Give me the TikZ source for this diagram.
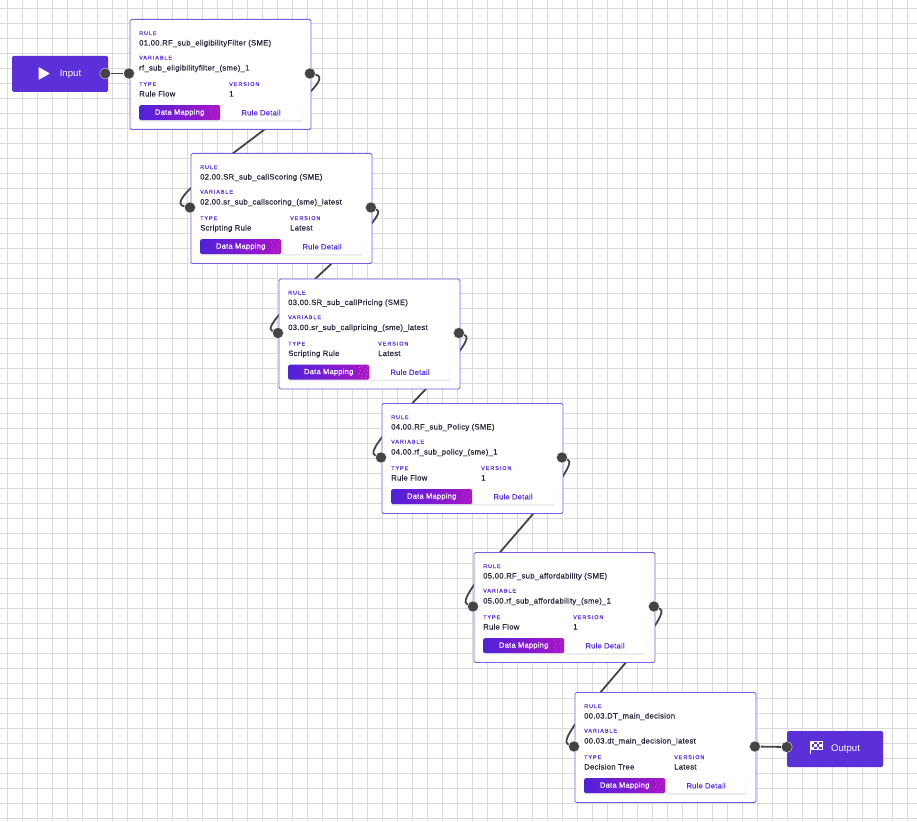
\documentclass[tikz,border=0pt]{standalone}
\usepackage{fontspec}
\setmainfont{Liberation Sans}
\newfontfamily\cardfont[FakeBold=0.3,LetterSpace=3.5]{Liberation Sans}
\newfontfamily\btnfont[FakeBold=0.6,LetterSpace=3.5]{Liberation Sans}
\newfontfamily\capsfont[FakeBold=0.5,LetterSpace=18]{Liberation Sans}
\usetikzlibrary{positioning,backgrounds,shadows}

\definecolor{flowviolet}{HTML}{5B30D9}
\definecolor{cardborder}{HTML}{7A5BE6}
\definecolor{portgrey}{HTML}{444444}
\definecolor{gridgrey}{HTML}{DADADA}
\definecolor{inktext}{HTML}{26263A}
\definecolor{flowblue}{HTML}{4F22DA}
\definecolor{flowmagenta}{HTML}{AB14C6}

\tikzset{
  cardbox/.style={draw=cardborder, line width=0.9pt, fill=white, rounded corners=1.5pt, minimum width=181pt, minimum height=110pt, inner sep=0pt, anchor=north west},
  caplabel/.style={font=\capsfont\fontsize{5.4}{6}\selectfont, text=flowviolet, inner sep=0pt, anchor=west, text height=4pt, text depth=0pt},
  cardtext/.style={font=\cardfont\fontsize{7.7}{9}\selectfont, text=inktext, inner sep=0pt, anchor=west, text height=5.5pt, text depth=1.5pt},
  mapbtn/.style={left color=flowblue, right color=flowmagenta, rounded corners=1.5pt, minimum width=81pt, minimum height=15pt, inner sep=0pt, anchor=north west, text=white, font=\btnfont\fontsize{7.5}{9}\selectfont, drop shadow={opacity=0.18, shadow xshift=0pt, shadow yshift=-1.5pt}},
  detailbtn/.style={fill=white, rounded corners=1.5pt, minimum width=81pt, minimum height=15pt, inner sep=0pt, text=flowviolet, font=\btnfont\fontsize{7.5}{9}\selectfont, drop shadow={opacity=0.18, shadow xshift=0pt, shadow yshift=-1.5pt}},
  portdot/.style={circle, fill=portgrey, draw=white, line width=0.3pt, minimum size=11pt, inner sep=0pt},
  endbox/.style={fill=flowviolet, rounded corners=1.5pt, minimum width=96pt, minimum height=36pt, inner sep=0pt, text=white, font=\fontsize{9.6}{11}\selectfont},
  wire/.style={draw=portgrey, line width=1.8pt},
  gridline/.style={draw=gridgrey, line width=1pt}
}

% one rule card: name, left, top, rule, variable, type, version
\newcommand{\rulecard}[7]{
  \node[cardbox] (#1) at (#2,#3) {};
  \node[caplabel] (#1rulecap) at ([xshift=9.5pt,yshift=-14pt]#1.north west) {RULE};
  \node[cardtext] (#1rule) at ([xshift=9.5pt,yshift=-24.5pt]#1.north west) {#4};
  \node[caplabel] (#1varcap) at ([xshift=9.5pt,yshift=-38.5pt]#1.north west) {VARIABLE};
  \node[cardtext] (#1var) at ([xshift=9.5pt,yshift=-49.5pt]#1.north west) {#5};
  \node[caplabel] (#1typecap) at ([xshift=9.5pt,yshift=-65pt]#1.north west) {TYPE};
  \node[cardtext] (#1type) at ([xshift=9.5pt,yshift=-75.5pt]#1.north west) {#6};
  \node[caplabel] (#1vercap) at ([xshift=99.5pt,yshift=-65pt]#1.north west) {VERSION};
  \node[cardtext] (#1ver) at ([xshift=99.5pt,yshift=-75.5pt]#1.north west) {#7};
  \node[mapbtn] (#1map) at ([xshift=9.5pt,yshift=-86pt]#1.north west) {Data Mapping};
  \node[detailbtn, right=0pt of #1map] (#1detail) {Rule Detail};
  \foreach \dx/\dy in {2/3,5/2,8/4,3/6,7/7,10/6,2/9,5/10,9/10,4/13,8/13,10/2}
    \fill[white, opacity=0.55] ([xshift=-12pt,yshift=-\dy pt]#1map.north east) ++(\dx pt,0) circle (0.35pt);
  \node[portdot] (#1in) at ([xshift=-0.5pt,yshift=-54.5pt]#1.north west) {};
  \node[portdot] (#1out) at ([xshift=-1.5pt,yshift=-54.5pt]#1.north east) {};
}

\begin{document}
\begin{tikzpicture}[x=1pt, y=-1pt]
\useasboundingbox (0,0) rectangle (917,821);
\clip (0,0) rectangle (917,821);

\node[endbox] (input) at (60,74) {\hspace*{21pt}Input};
\fill[white, rounded corners=0.6pt] (38.5,67) -- (50,73.5) -- (38.5,80) -- cycle;
\node[portdot] (inputport) at (input.east) [xshift=-3pt, yshift=0.5pt] {};

\rulecard{filter}{129.5}{19}{01.00.RF\_sub\_eligibilityFilter (SME)}{rf\_sub\_eligibilityfilter\_(sme)\_1}{Rule Flow}{1}
\rulecard{scoring}{190.5}{153}{02.00.SR\_sub\_callScoring (SME)}{02.00.sr\_sub\_callscoring\_(sme)\_latest}{Scripting Rule}{Latest}
\rulecard{pricing}{278.5}{278.5}{03.00.SR\_sub\_callPricing (SME)}{03.00.sr\_sub\_callpricing\_(sme)\_latest}{Scripting Rule}{Latest}
\rulecard{policy}{381.5}{403}{04.00.RF\_sub\_Policy (SME)}{04.00.rf\_sub\_policy\_(sme)\_1}{Rule Flow}{1}
\rulecard{afford}{473.5}{552}{05.00.RF\_sub\_affordability (SME)}{05.00.rf\_sub\_affordability\_(sme)\_1}{Rule Flow}{1}
\rulecard{decision}{574.5}{692}{00.03.DT\_main\_decision}{00.03.dt\_main\_decision\_latest}{Decision Tree}{Latest}

\node[endbox] (output) at (835,749) {\hspace*{21pt}Output};
\node[portdot] (outputport) at (output.west) [yshift=2pt] {};
% checkered flag
\draw[white, line width=0.8pt] (810.5,741) -- (810.5,753.5);
\foreach \col/\row in {0/0,2/0,1/1,3/1,0/2,2/2}
  \fill[white] (811+\col*2.8,741.5+\row*2.6) rectangle ++(2.8,2.6);
\draw[white, line width=0.4pt] (811,741.5) rectangle (822,749.3);

\begin{scope}[on background layer]
\foreach \x in {0,...,60}
  \draw[gridline] (7.5+\x*15,0) -- (7.5+\x*15,821);
\foreach \y in {0,...,54}
  \draw[gridline] (0,8.5+\y*15) -- (917,8.5+\y*15);
\draw[wire] (inputport) -- (filterin);
\draw[wire] (filterout) .. controls +(40,8) and +(-40,-8) .. (scoringin);
\draw[wire] (scoringout) .. controls +(26,8) and +(-26,-8) .. (pricingin);
\draw[wire] (pricingout) .. controls +(26,8) and +(-26,-8) .. (policyin);
\draw[wire] (policyout) .. controls +(26,8) and +(-26,-8) .. (affordin);
\draw[wire] (affordout) .. controls +(26,8) and +(-26,-8) .. (decisionin);
\draw[wire] (decisionout) -- (outputport);
\end{scope}
\end{tikzpicture}
\end{document}
